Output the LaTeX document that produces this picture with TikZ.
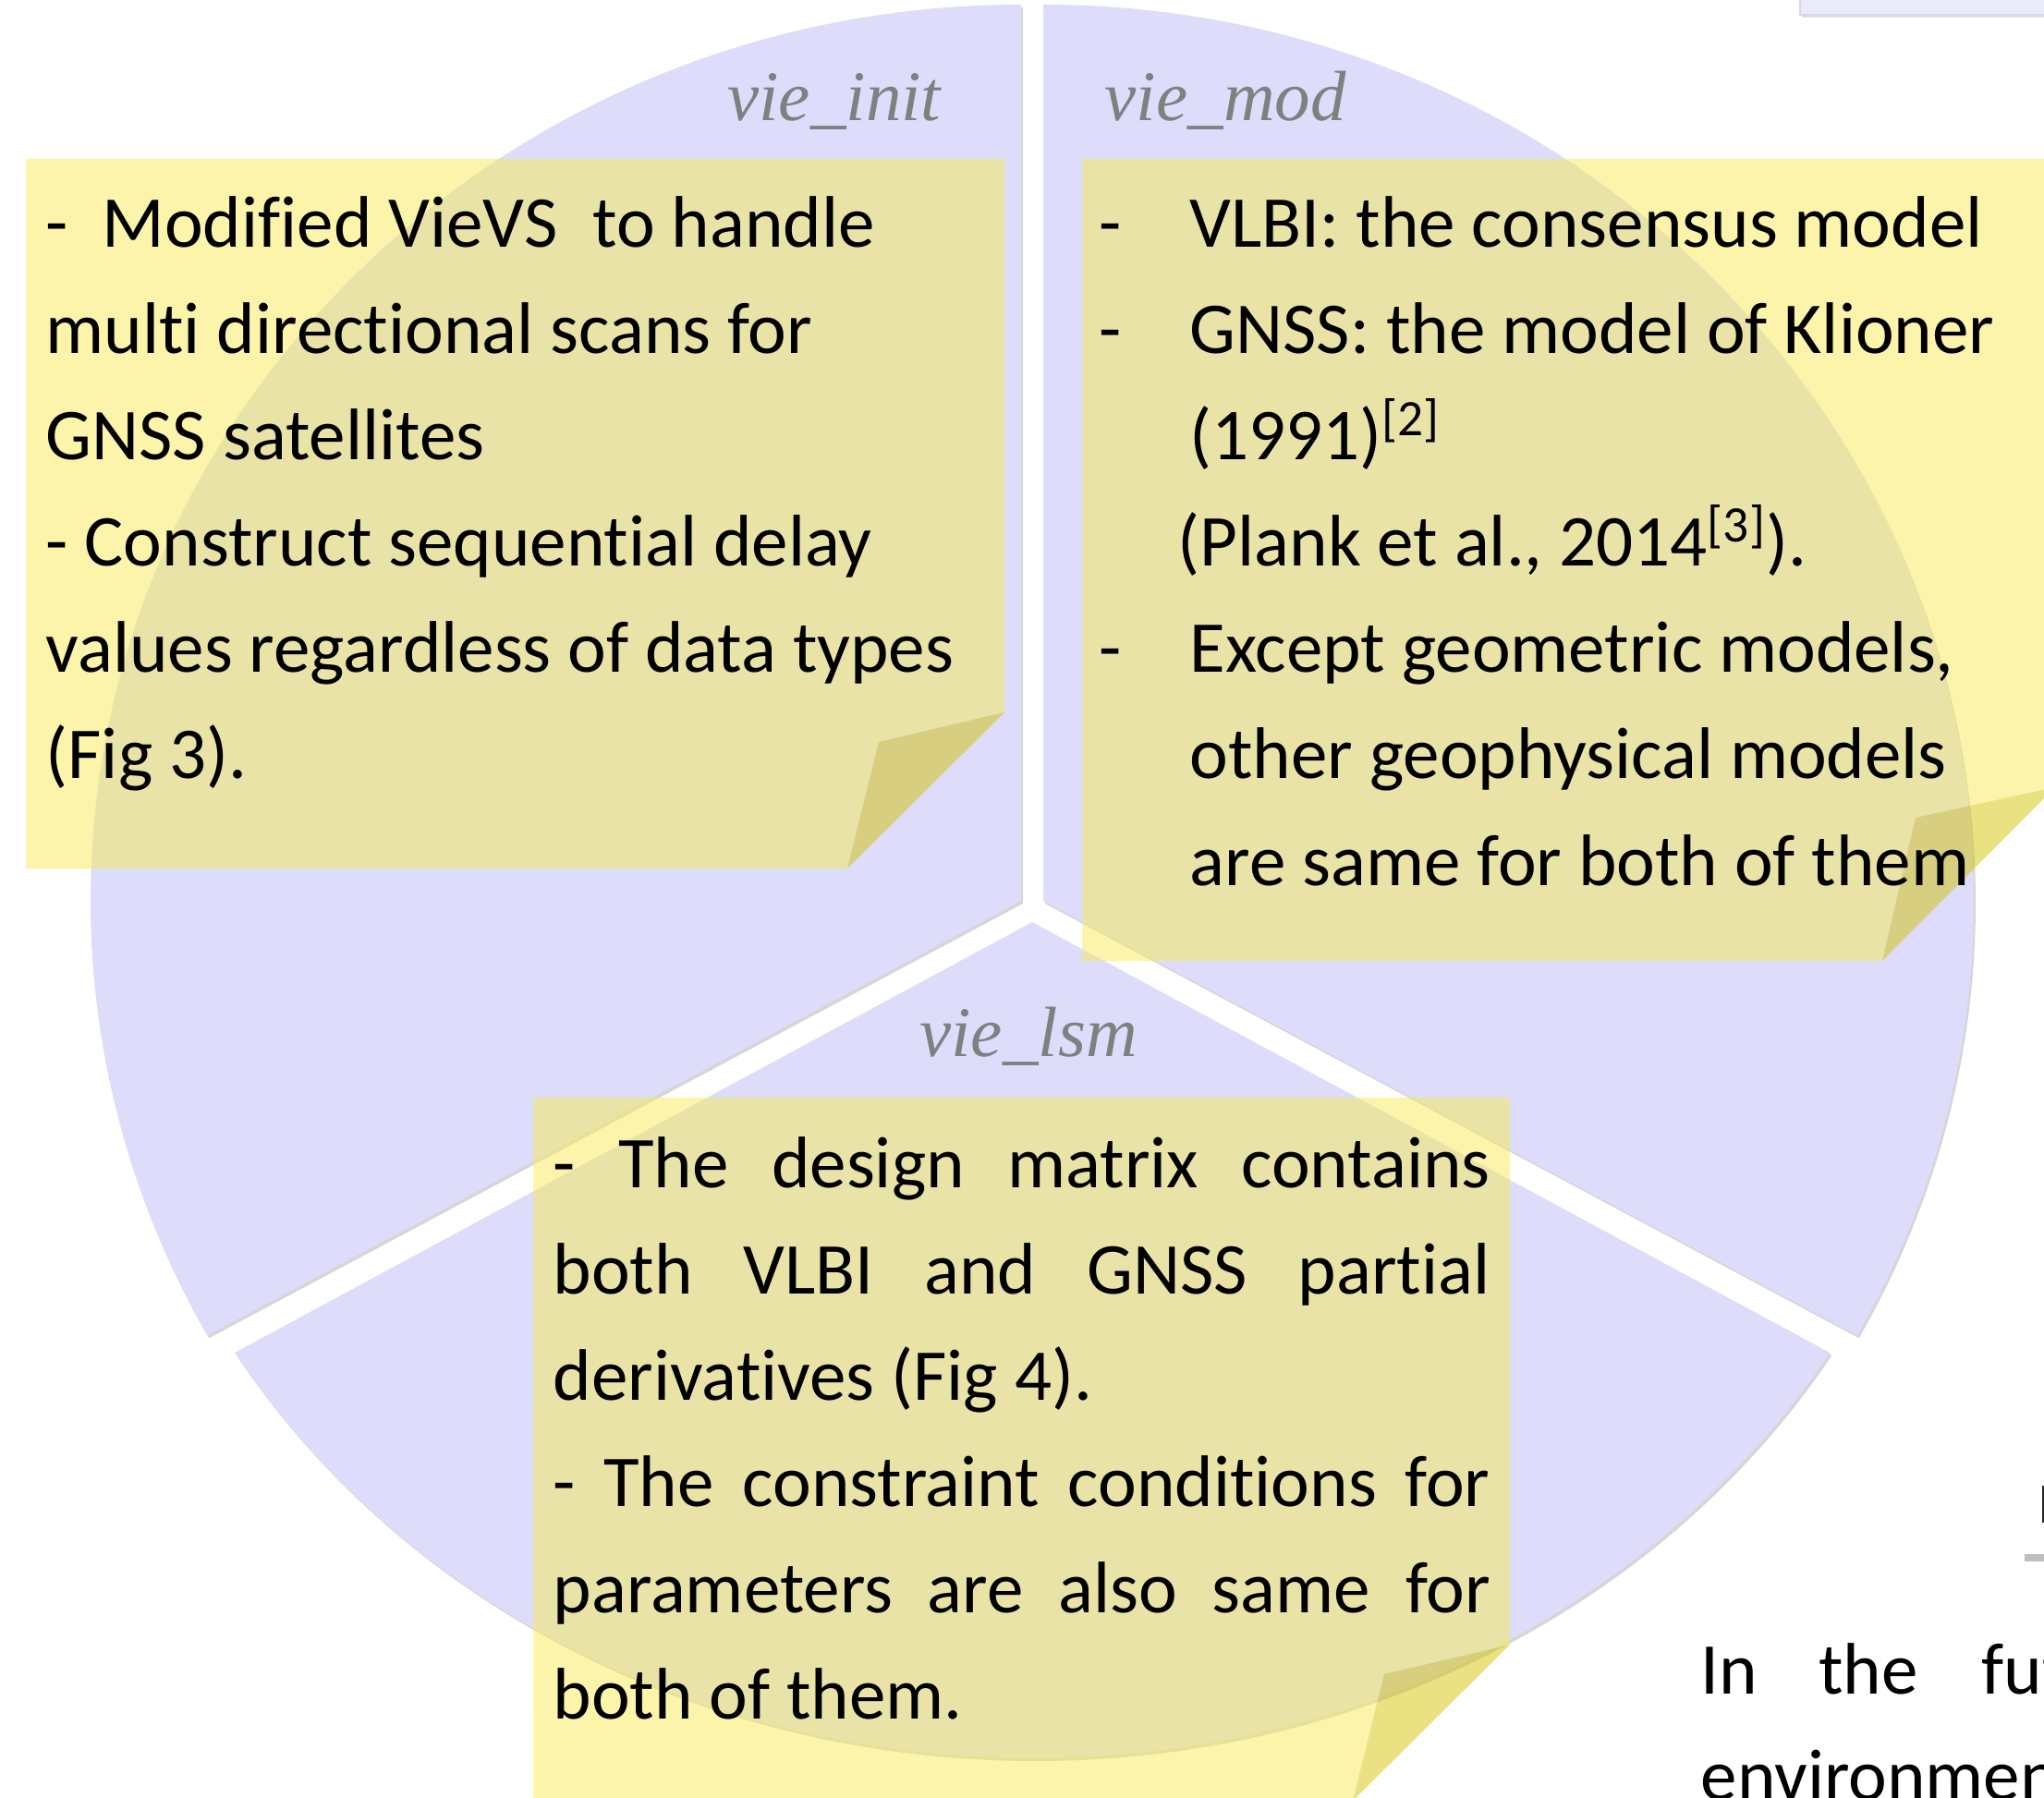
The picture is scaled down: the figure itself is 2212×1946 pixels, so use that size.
\documentclass[tikz,border=0pt]{standalone}
\usepackage{fontspec}
\setmainfont{Carlito}[Ligatures={NoCommon,NoContextual,NoRare}]
\newfontfamily\labfont{Liberation Serif}
\newlength\px \setlength\px{0.01cm}
\definecolor{lav}{RGB}{221,221,251}
\definecolor{noteY}{RGB}{247,233,85}
\definecolor{foldY}{RGB}{211,195,5}
\definecolor{labgray}{RGB}{128,128,128}
\definecolor{boxlav}{RGB}{234,234,248}
\definecolor{boxedge}{RGB}{214,214,240}
\newcommand\bodyfont{\fontsize{22.48}{32.7}\selectfont}
\newcommand\labelfont{\labfont\itshape\fontsize{21.9}{26}\selectfont}
\begin{document}
\begin{tikzpicture}[x=0.01cm,y=-0.01cm,
  sector/.style={fill=lav},
  sectorshadow/.style={fill=black,opacity=0.16},
  notebody/.style={fill=noteY,opacity=0.5},
  notefold/.style={fill=foldY,opacity=0.5},
  body/.style={anchor=base west,inner sep=0pt,font=\bodyfont,text=black},
  lab/.style={inner sep=0pt,font=\labelfont,text=labgray}]
\useasboundingbox (0,0) rectangle (2212,1946);
\clip (0,0) rectangle (2212,1946);

% page elements at the right edge
\fill[black,opacity=0.12] (1950,-20) rectangle (2240,19);
\filldraw[fill=boxlav,draw=boxedge,line width=0.6pt] (1948,-20) rectangle (2240,16);
\fill[black,opacity=0.25] (2191,1574) rectangle (2240,1690);
\fill[white] (2188,1568) rectangle (2240,1682);
\fill[black!85] (2210,1608) rectangle (2214,1648);

% sector shadows
\begin{scope}[shift={(2,3)}]
\fill[sectorshadow] (1105,975) -- (1105,5) arc[start angle=270,end angle=151,x radius=1007,y radius=970] -- cycle;
\fill[sectorshadow] (1129,975) -- (1129,5) arc[start angle=270,end angle=389,x radius=1007,y radius=970] -- cycle;
\fill[sectorshadow] (1117,998) -- (254,1464) arc[start angle=149,end angle=31,x radius=1007,y radius=905] -- cycle;
\end{scope}
% sectors
\fill[sector] (1105,975) -- (1105,5) arc[start angle=270,end angle=151,x radius=1007,y radius=970] -- cycle;
\fill[sector] (1129,975) -- (1129,5) arc[start angle=270,end angle=389,x radius=1007,y radius=970] -- cycle;
\fill[sector] (1117,998) -- (254,1464) arc[start angle=149,end angle=31,x radius=1007,y radius=905] -- cycle;

% labels
\node[lab,anchor=base east] (linit) at (1019,131) {vie\_init};
\node[lab,anchor=base west] (lmod) at (1195,131) {vie\_mod};
\node[lab,anchor=base] (llsm) at (1113,1143) {vie\_lsm};

% sticky notes
\fill[notebody] (28,172) -- (1087,172) -- (1087,771) -- (951,803) -- (917,940) -- (28,940) -- cycle;
\fill[notefold] (1087,771) -- (951,803) -- (917,940) -- cycle;
\fill[notebody] (1171,172) -- (2224,172) -- (2224,852) -- (2073,885) -- (2037,1040) -- (1171,1040) -- cycle;
\fill[notefold] (2224,852) -- (2073,885) -- (2037,1040) -- cycle;
\fill[notebody] (577,1188) -- (1634,1188) -- (1634,1780) -- (1498,1812) -- (1464,1949) -- (577,1949) -- cycle;
\fill[notefold] (1634,1780) -- (1498,1812) -- (1464,1949) -- cycle;

% note 1 text
\node[body] (a1) at (49,268) {\makebox[61\px][l]{-}Modified VieVS\hspace{38\px}to handle};
\node[body] (a2) at (49,383) {multi directional scans for};
\node[body] (a3) at (49,498) {GNSS satellites};
\node[body] (a4) at (49,613) {- Construct sequential delay};
\node[body] (a5) at (49,728) {values regardless of data types};
\node[body] (a6) at (49,843) {(Fig 3).};

% note 2 text
\node[body] (b1d) at (1189,268) {-};
\node[body] (b1) at (1287,268) {VLBI: the consensus model};
\node[body] (b2d) at (1189,383) {-};
\node[body] (b2) at (1287,383) {GNSS: the model of Klioner};
\node[body] (b3) at (1287,498) {(1991)\textsuperscript{[2]}};
\node[body] (b4) at (1274,613) {(Plank et al., 2014\textsuperscript{[3]}).};
\node[body] (b5d) at (1189,728) {-};
\node[body] (b5) at (1287,728) {Except geometric models,};
\node[body] (b6) at (1287,843) {other geophysical models};
\node[body] (b7) at (1287,958) {are same for both of them};

% note 3 text
\node[body] (c1) at (598,1285) {\makebox[1014\px][s]{- The design matrix contains}};
\node[body] (c2) at (598,1400) {\makebox[1014\px][s]{both VLBI and GNSS partial}};
\node[body] (c3) at (598,1515) {derivatives (Fig 4).};
\node[body] (c4) at (598,1630) {\makebox[1014\px][s]{- The constraint conditions for}};
\node[body] (c5) at (598,1745) {\makebox[1014\px][s]{parameters are also same for}};
\node[body] (c6) at (598,1860) {both of them.};

% page text at bottom right
\node[body] (d1) at (1840,1833) {In\hspace{66\px}the\hspace{69\px}future};
\node[body] (d2) at (1840,1948) {environment};
\end{tikzpicture}
\end{document}
